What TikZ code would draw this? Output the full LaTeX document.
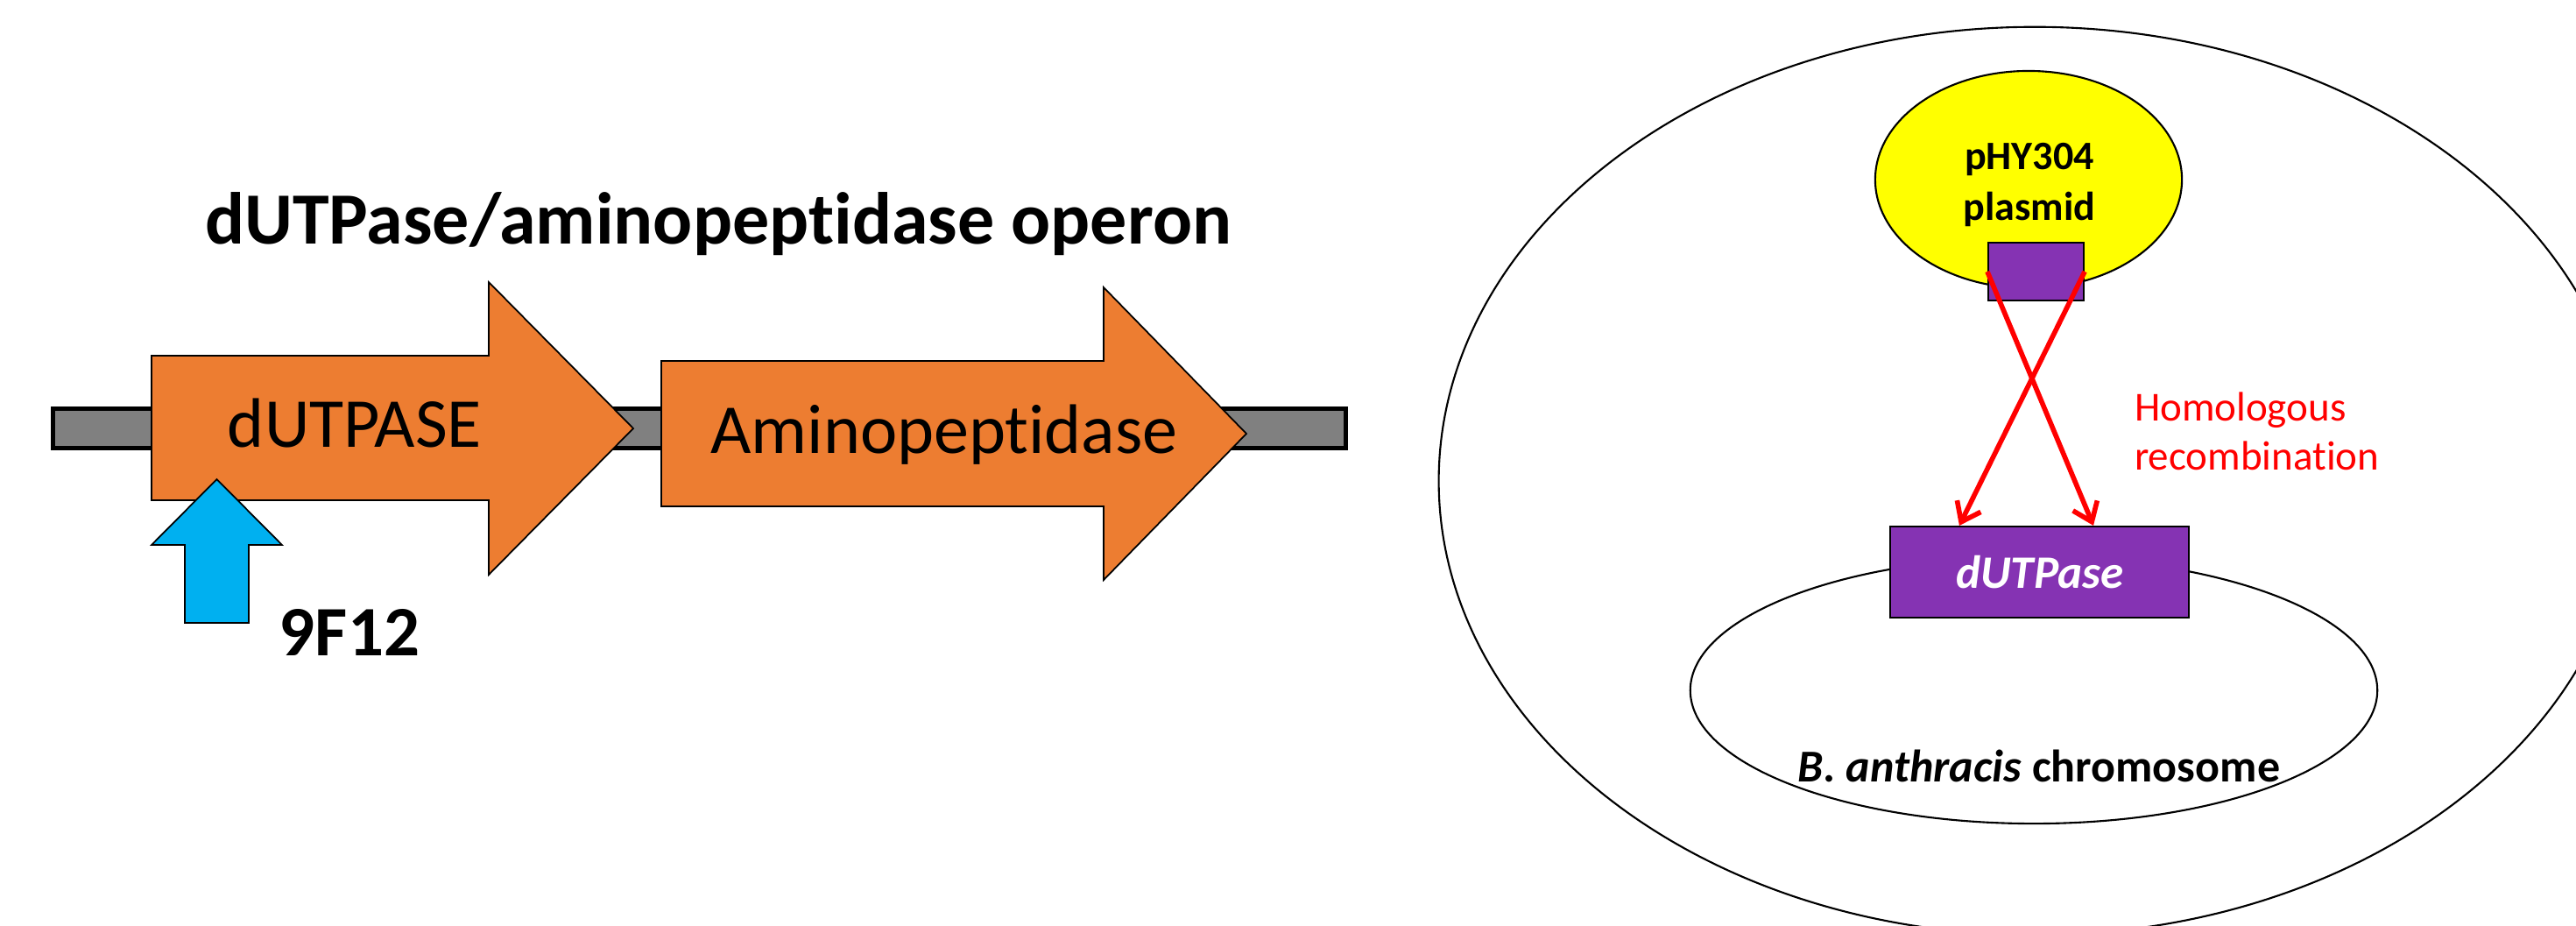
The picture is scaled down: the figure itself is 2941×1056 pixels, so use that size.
\documentclass[tikz,border=0pt]{standalone}
\usepackage{fontspec}
\setmainfont{Carlito}[Ligatures=NoCommon]
\usetikzlibrary{shapes.geometric,arrows.meta,calc}
\definecolor{geneorange}{HTML}{ED7D31}
\definecolor{siteblue}{HTML}{00B0F0}
\definecolor{bargray}{HTML}{808080}
\definecolor{plasyellow}{HTML}{FFFF00}
\definecolor{genepurple}{HTML}{8533B3}
\definecolor{recred}{HTML}{FF0000}
\tikzset{
  genearrow/.style={fill=geneorange, draw=black, line width=0.5pt, line join=miter},
  sitearrow/.style={fill=siteblue, draw=black, line width=0.5pt, line join=miter},
  dnabar/.style={fill=bargray, draw=black, line width=1.4pt},
  cellshape/.style={ellipse, draw=black, line width=0.6pt, inner sep=0pt},
  boxshape/.style={rectangle, draw=black, line width=0.6pt, fill=genepurple, inner sep=0pt},
  recarrow/.style={draw=recred, line width=1.6pt, -{Straight Barb[length=0.2cm,width=0.3cm]}},
  txt/.style={inner sep=0pt, outer sep=0pt},
}
\begin{document}
\begin{tikzpicture}[x=0.01cm,y=-0.01cm]
\useasboundingbox (0,0) rectangle (2941,1056);
\clip (0,0) rectangle (2941,1056);
\fill[white] (0,0) rectangle (2941,1056);

% ---- left: operon ----
\draw[dnabar] (60.5,466.5) rectangle (1536.5,511.5);
\draw[genearrow] (173,406) -- (558,406) -- (558,322) -- (723,489) -- (558,656) -- (558,571) -- (173,571) -- cycle;
\draw[genearrow] (755,412) -- (1260,412) -- (1260,328) -- (1423,495) -- (1260,662) -- (1260,578) -- (755,578) -- cycle;
\draw[sitearrow] (211,711) -- (211,622) -- (173,622) -- (247.5,547) -- (322,622) -- (284,622) -- (284,711) -- cycle;

\node[txt, anchor=base, font=\bfseries\fontsize{23.9pt}{28pt}\selectfont] (title) at (820,278) {dUTPase/aminopeptidase operon};
\node[txt, anchor=base, font=\fontsize{22.76pt}{27pt}\selectfont] (dutlab) at (405,510) {dUTPASE};
\node[txt, anchor=base, font=\fontsize{22.76pt}{27pt}\selectfont] (aminolab) at (1078,517) {Aminopeptidase};
\node[txt, anchor=base, font=\bfseries\fontsize{23pt}{27pt}\selectfont] (site) at (399,748) {9F12};

% ---- right: recombination ----
\node[cellshape, minimum width=13.6cm, minimum height=10.36cm] (cell) at (2323,549) {};
\node[cellshape, fill=plasyellow, minimum width=3.5cm, minimum height=2.48cm] (plasmid) at (2316,205) {};
\node[boxshape, minimum width=1.09cm, minimum height=0.66cm] (pbox) at (2324.5,310) {};
\node[cellshape, fill=white, minimum width=7.84cm, minimum height=3.04cm] (chrom) at (2322,788) {};
\node[boxshape, minimum width=3.41cm, minimum height=1.04cm] (gbox) at (2328.5,653) {};

\draw[recarrow] (pbox.west) -- ([xshift=0.615cm]gbox.north);
\draw[recarrow] (pbox.east) -- ([xshift=-0.915cm]gbox.north);

\node[txt, align=center, font=\bfseries\fontsize{13.1pt}{16.36pt}\selectfont] (plaslab) at (2317,211) {pHY304\\plasmid};
\node[txt, anchor=base, text=white, font=\bfseries\itshape\fontsize{15.1pt}{18pt}\selectfont] (genelab) at (2329,671) {dUTPase};
\node[txt, anchor=base, font=\bfseries\fontsize{14.8pt}{18pt}\selectfont] (chromlab) at (2328,892) {\textit{B. anthracis} chromosome};
\node[txt, anchor=west, align=left, text=recred, font=\fontsize{13.37pt}{15.93pt}\selectfont] (reclab) at (2437,492) {Homologous\\recombination};
\end{tikzpicture}
\end{document}
